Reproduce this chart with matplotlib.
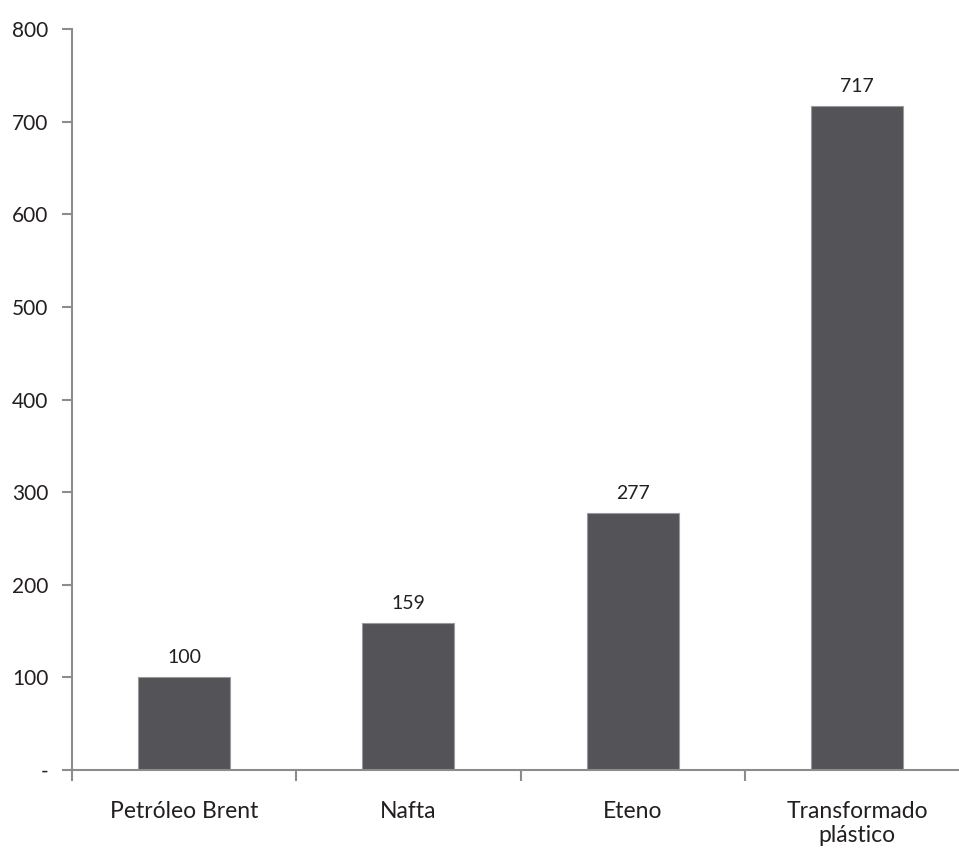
import matplotlib.pyplot as plt
import numpy as np

# Índice de valor ao longo da cadeia (petróleo = 100)
categorias = ['Petróleo Brent', 'Nafta', 'Eteno', 'Transformado\nplástico']
valores = [100, 159, 277, 717]
yticks = [0, 100, 200, 300, 400, 500, 600, 700, 800]
ytick_labels = ['-', '100', '200', '300', '400', '500', '600', '700', '800']

plt.rcParams['font.family'] = ['Lato', 'DejaVu Sans']
cor_barra = '#545357'
cor_eixo = '#8c8c8c'
cor_texto = '#231f20'

fig = plt.figure(figsize=(9.59, 8.52), dpi=100)
ax = fig.add_axes([0.0751, 0.0962, 0.9249, 0.8698])

x = np.arange(len(categorias))
bars = ax.bar(x, valores, width=0.41, color=cor_barra, edgecolor='#9a9a9a',
              linewidth=0.8, zorder=2)
for xi, v in zip(x, valores):
    ax.text(xi, v + 12, f'{v}', ha='center', va='bottom', fontsize=14,
            color=cor_texto)

ax.set_xlim(-0.5, 3.455)
ax.set_ylim(0, 800)
ax.set_yticks(yticks)
ax.set_yticklabels(ytick_labels)

# rótulos no centro, marcas nos limites entre categorias
ax.set_xticks(x)
ax.set_xticklabels(categorias, fontsize=16.5, color=cor_texto, linespacing=1.2)
ax.tick_params(axis='x', length=0, pad=22)
ax.set_xticks([-0.5, 0.5, 1.5, 2.5], minor=True)
ax.tick_params(axis='x', which='minor', length=8, width=1.5, color=cor_eixo,
               direction='out')
ax.tick_params(axis='y', length=7, width=1.5, color=cor_eixo, labelsize=15,
               labelcolor=cor_texto, pad=10)

for lado in ['top', 'right']:
    ax.spines[lado].set_visible(False)
for lado in ['left', 'bottom']:
    ax.spines[lado].set_color(cor_eixo)
    ax.spines[lado].set_linewidth(1.5)

fig.savefig('out.png', dpi=100)
